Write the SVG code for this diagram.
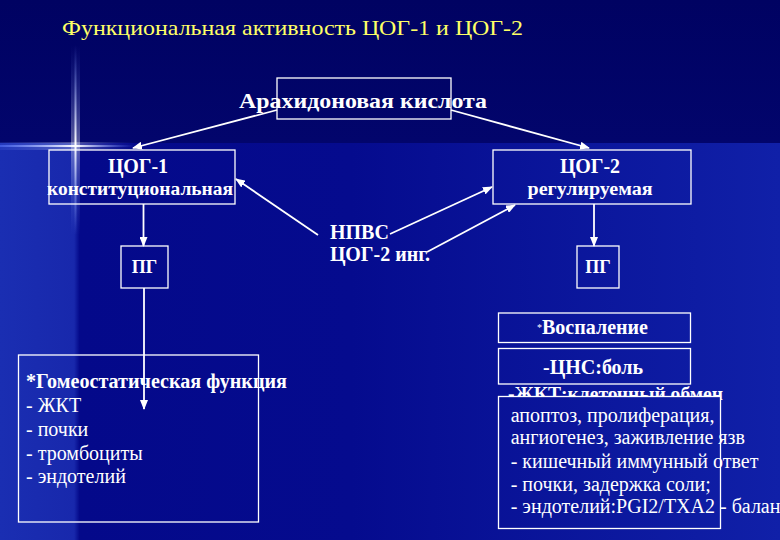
<svg xmlns="http://www.w3.org/2000/svg" width="780" height="540" viewBox="0 0 780 540">
<style>
.bx{fill:none;stroke:#ffffff;stroke-width:1.3}
.t{font-family:"Liberation Serif","Times New Roman",serif;fill:#ffffff}
.b{font-weight:bold}
.c{text-anchor:middle}
.ln{stroke:#ffffff;stroke-width:1.8;fill:none}
.ar{marker-end:url(#ah)}
</style>
<defs>
<marker id="ah" markerWidth="10" markerHeight="8" refX="9" refY="4" orient="auto" markerUnits="userSpaceOnUse">
<path d="M0,0 L10,4 L0,8 z" fill="#ffffff"/>
</marker>
<linearGradient id="low" gradientUnits="userSpaceOnUse" x1="0" y1="0" x2="780" y2="0">
<stop offset="0" stop-color="#1a2eb2"/>
<stop offset="0.095" stop-color="#1828ac"/>
<stop offset="0.102" stop-color="#04098a"/>
<stop offset="0.45" stop-color="#050b8e"/>
<stop offset="1" stop-color="#1020a8"/>
</linearGradient>
<linearGradient id="top" x1="0" y1="0" x2="0" y2="1">
<stop offset="0" stop-color="#000262"/>
<stop offset="1" stop-color="#02056c"/>
</linearGradient>
<linearGradient id="vg" x1="0" y1="0" x2="0" y2="1">
<stop offset="0" stop-color="#6f8cff" stop-opacity="0"/>
<stop offset="0.52" stop-color="#ffffff" stop-opacity="1"/>
<stop offset="1" stop-color="#6f8cff" stop-opacity="0"/>
</linearGradient>
<linearGradient id="hg" x1="0" y1="0" x2="1" y2="0">
<stop offset="0" stop-color="#5a78ff" stop-opacity="0.5"/>
<stop offset="0.56" stop-color="#ffffff" stop-opacity="1"/>
<stop offset="1" stop-color="#5a78ff" stop-opacity="0"/>
</linearGradient>
</defs>
<g id="background">
<rect x="0" y="0" width="780" height="540" fill="url(#low)"/>
<rect x="0" y="0" width="780" height="143" fill="url(#top)"/>
<rect x="71" y="45" width="9" height="190" fill="url(#vg)" opacity="0.35"/>
<rect x="74.5" y="45" width="2" height="190" fill="url(#vg)"/>
<rect x="0" y="142" width="135" height="8" fill="url(#hg)" opacity="0.3"/>
<rect x="0" y="145" width="135" height="2" fill="url(#hg)"/>
</g>
<text id="title" class="t" x="62" y="35" font-size="22" fill="#ffff66" style="fill:#ffff66" textLength="461" lengthAdjust="spacingAndGlyphs">Функциональная активность ЦОГ-1 и ЦОГ-2</text>
<g id="connectors">
<line class="ln ar" x1="277" y1="110" x2="133" y2="148"/>
<line class="ln ar" x1="451" y1="110" x2="589" y2="148"/>
<line class="ln ar" x1="143.5" y1="204" x2="143.5" y2="246"/>
<line class="ln ar" x1="594" y1="204" x2="594" y2="246"/>
<line class="ln ar" x1="144" y1="288" x2="144" y2="409"/>
<line class="ln ar" x1="318" y1="235" x2="236" y2="179"/>
<line class="ln ar" x1="390" y1="234" x2="492" y2="187"/>
<line class="ln ar" x1="427" y1="252" x2="515" y2="205"/>
</g>
<g id="arachidonic">
<rect class="bx" x="277" y="78" width="174" height="41"/>
<text class="t b c" x="363" y="108" font-size="21" textLength="248" lengthAdjust="spacingAndGlyphs">Арахидоновая кислота</text>
</g>
<g id="cox1">
<rect class="bx" x="49" y="150" width="186" height="54"/>
<text class="t b c" x="138" y="173" font-size="20">ЦОГ-1</text>
<text class="t b c" x="140" y="195" font-size="18" textLength="186" lengthAdjust="spacingAndGlyphs">конституциональная</text>
</g>
<g id="cox2">
<rect class="bx" x="493" y="150" width="198" height="54"/>
<text class="t b c" x="590" y="173" font-size="20">ЦОГ-2</text>
<text class="t b c" x="590" y="195" font-size="18" textLength="125" lengthAdjust="spacingAndGlyphs">регулируемая</text>
</g>
<g id="pg1">
<rect class="bx" x="121" y="246" width="47" height="42"/>
<text class="t b c" x="144.5" y="273" font-size="18">ПГ</text>
</g>
<g id="pg2">
<rect class="bx" x="577" y="246" width="42" height="42"/>
<text class="t b c" x="598" y="273" font-size="18">ПГ</text>
</g>
<g id="nsaid">
<text class="t b" x="330" y="239" font-size="20">НПВС</text>
<text class="t b" x="330" y="261" font-size="20">ЦОГ-2 инг.</text>
</g>
<g id="homeostatic">
<rect class="bx" x="18.5" y="355" width="240" height="167"/>
<text class="t b" x="26" y="387.5" font-size="20" textLength="261" lengthAdjust="spacingAndGlyphs">*Гомеостатическая функция</text>
<text class="t" x="26" y="411.5" font-size="20">- ЖКТ</text>
<text class="t" x="26" y="436" font-size="20">- почки</text>
<text class="t" x="26" y="460" font-size="20">- тромбоциты</text>
<text class="t" x="26" y="483" font-size="20">- эндотелий</text>
</g>
<g id="inflammation">
<rect class="bx" x="498.5" y="313" width="192" height="29.5"/>
<text class="t" x="537" y="331" font-size="10">*</text>
<text class="t b" x="542" y="333.5" font-size="20">Воспаление</text>
</g>
<g id="cns">
<rect class="bx" x="498.5" y="348.5" width="192" height="35.5"/>
<text class="t b" x="543" y="373.5" font-size="20">-ЦНС:боль</text>
</g>
<g id="gi">
<text class="t b" x="508" y="400" font-size="19" textLength="215" lengthAdjust="spacingAndGlyphs">-ЖКТ:клеточный обмен</text>
<rect x="498.5" y="396.5" width="222" height="132" fill="url(#low)" stroke="#ffffff" stroke-width="1.3"/>
<text class="t" x="510.7" y="421.7" font-size="20">апоптоз, пролиферация,</text>
<text class="t" x="510.7" y="444" font-size="20">ангиогенез, заживление язв</text>
<text class="t" x="510.7" y="468.3" font-size="20">- кишечный иммунный ответ</text>
<text class="t" x="510.7" y="490.7" font-size="20">- почки, задержка соли;</text>
<text class="t" x="510.7" y="513.3" font-size="20">- эндотелий:PGI2/TXA2 - балан</text>
</g>
</svg>
